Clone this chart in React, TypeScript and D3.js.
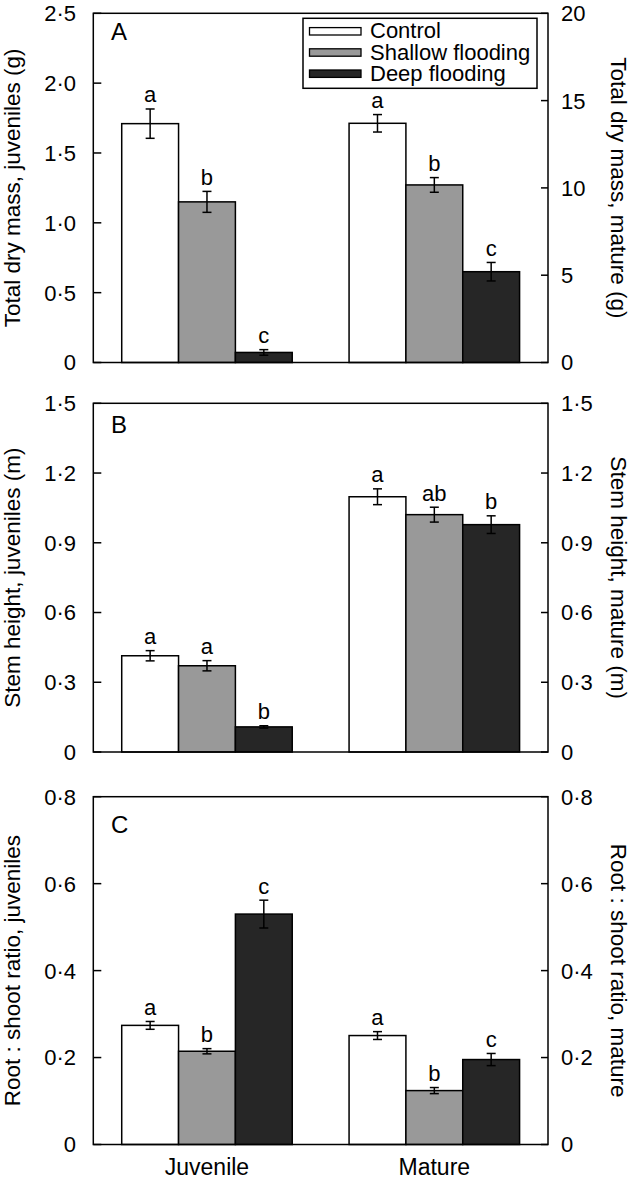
import React from "react";
import * as d3 from "d3";

const groups = ["Juvenile", "Mature"];
const treatments = ["Control", "Shallow flooding", "Deep flooding"];
const fills = ["#ffffff", "#999999", "#262626"];

// Panel A: total dry mass
const massJuvMean = [1.71, 1.15, 0.072];
const massJuvSE = [0.105, 0.075, 0.02];
const massJuvLetters = ["a", "b", "c"];
const massMatMean = [13.7, 10.17, 5.2];
const massMatSE = [0.5, 0.42, 0.53];
const massMatLetters = ["a", "b", "c"];

// Panel B: stem height
const heightJuvMean = [0.414, 0.371, 0.108];
const heightJuvSE = [0.022, 0.022, 0.005];
const heightJuvLetters = ["a", "a", "b"];
const heightMatMean = [1.098, 1.021, 0.978];
const heightMatSE = [0.034, 0.032, 0.038];
const heightMatLetters = ["a", "ab", "b"];

// Panel C: root:shoot ratio
const ratioJuvMean = [0.274, 0.2145, 0.53];
const ratioJuvSE = [0.009, 0.006, 0.032];
const ratioJuvLetters = ["a", "b", "c"];
const ratioMatMean = [0.2506, 0.124, 0.1954];
const ratioMatSE = [0.009, 0.007, 0.014];
const ratioMatLetters = ["a", "b", "c"];

const massLeftTicks = [0, 0.5, 1.0, 1.5, 2.0, 2.5];
const massRightTicks = [0, 5, 10, 15, 20];
const heightTicks = [0, 0.3, 0.6, 0.9, 1.2, 1.5];
const ratioTicks = [0, 0.2, 0.4, 0.6, 0.8];

const panels = [
  {
    label: "A", top: 13.3, bottom: 362.5, labelDy: 27,
    leftMax: 2.5, rightMax: 20, leftTicks: massLeftTicks, rightTicks: massRightTicks,
    leftTitle: "Total dry mass, juveniles (g)", rightTitle: "Total dry mass, mature (g)",
    juv: massJuvMean, juvSE: massJuvSE, juvL: massJuvLetters,
    mat: massMatMean, matSE: massMatSE, matL: massMatLetters, legend: true,
  },
  {
    label: "B", top: 403.3, bottom: 752, labelDy: 30,
    leftMax: 1.5, rightMax: 1.5, leftTicks: heightTicks, rightTicks: heightTicks,
    leftTitle: "Stem height, juveniles (m)", rightTitle: "Stem height, mature (m)",
    juv: heightJuvMean, juvSE: heightJuvSE, juvL: heightJuvLetters,
    mat: heightMatMean, matSE: heightMatSE, matL: heightMatLetters, legend: false,
  },
  {
    label: "C", top: 796.7, bottom: 1144.5, labelDy: 36.5,
    leftMax: 0.8, rightMax: 0.8, leftTicks: ratioTicks, rightTicks: ratioTicks,
    leftTitle: "Root : shoot ratio, juveniles", rightTitle: "Root : shoot ratio, mature",
    juv: ratioJuvMean, juvSE: ratioJuvSE, juvL: ratioJuvLetters,
    mat: ratioMatMean, matSE: ratioMatSE, matL: ratioMatLetters, legend: false,
  },
];

const X0 = 93.3;
const X1 = 548;
const FONT = "'Liberation Sans', Arial, Helvetica, sans-serif";

const fmt = (v: number) => (v === 0 ? "0" : d3.format(".1f")(v).replace(".", "\u00B7"));
const fmtInt = (v: number) => String(v);

export default function App() {
  const xBand = d3.scaleBand<string>().domain(groups).range([X0, X1]).paddingInner(0.25).paddingOuter(0.125);
  const xInner = d3.scaleBand<string>().domain(treatments).range([0, xBand.bandwidth()]);

  return (
    <svg width={633} height={1181} style={{ position: "absolute", left: 0, top: 0, background: "#fff" }} fontFamily={FONT}>
      <rect x={0} y={0} width={633} height={1181} fill="#fff" />
      {panels.map((p) => {
        const yL = d3.scaleLinear().domain([0, p.leftMax]).range([p.bottom, p.top]);
        const yR = d3.scaleLinear().domain([0, p.rightMax]).range([p.bottom, p.top]);
        const mid = (p.top + p.bottom) / 2;
        const rightFmt = p.rightMax >= 10 ? fmtInt : fmt;
        const sets = [
          { g: groups[0], vals: p.juv, se: p.juvSE, L: p.juvL, y: yL },
          { g: groups[1], vals: p.mat, se: p.matSE, L: p.matL, y: yR },
        ];
        return (
          <g key={p.label}>
            {sets.map((s) =>
              s.vals.map((v, i) => {
                const x = (xBand(s.g) as number) + (xInner(treatments[i]) as number);
                const w = xInner.bandwidth();
                const cx = x + w / 2;
                const yTop = s.y(v + s.se[i]);
                const yBot = s.y(v - s.se[i]);
                return (
                  <g key={s.g + i}>
                    <rect x={x} y={s.y(v)} width={w} height={p.bottom - s.y(v)} fill={fills[i]} stroke="#000" strokeWidth={1.5} />
                    <line x1={cx} x2={cx} y1={yTop} y2={yBot} stroke="#000" strokeWidth={1.5} />
                    <line x1={cx - 4.5} x2={cx + 4.5} y1={yTop} y2={yTop} stroke="#000" strokeWidth={1.5} />
                    <line x1={cx - 4.5} x2={cx + 4.5} y1={yBot} y2={yBot} stroke="#000" strokeWidth={1.5} />
                    <text x={cx} y={yTop - 6.5} textAnchor="middle" fontSize={22}>{s.L[i]}</text>
                  </g>
                );
              })
            )}
            <rect x={X0} y={p.top} width={X1 - X0} height={p.bottom - p.top} fill="none" stroke="#000" strokeWidth={1.5} />
            {p.leftTicks.map((t) => (
              <g key={"l" + t}>
                <line x1={X0} x2={X0 + 8} y1={yL(t)} y2={yL(t)} stroke="#000" strokeWidth={1.5} />
                <text x={76} y={yL(t)} dy="0.36em" textAnchor="end" fontSize={22}>{fmt(t)}</text>
              </g>
            ))}
            {p.rightTicks.map((t) => (
              <g key={"r" + t}>
                <line x1={X1 - 7} x2={X1} y1={yR(t)} y2={yR(t)} stroke="#000" strokeWidth={1.5} />
                <text x={561} y={yR(t)} dy="0.36em" textAnchor="start" fontSize={22}>{rightFmt(t)}</text>
              </g>
            ))}
            <text x={111} y={p.top + p.labelDy} fontSize={24}>{p.label}</text>
            <text transform={`translate(20,${mid}) rotate(-90)`} textAnchor="middle" fontSize={22.5}>{p.leftTitle}</text>
            <text transform={`translate(611,${mid}) rotate(90)`} textAnchor="middle" fontSize={22.5}>{p.rightTitle}</text>
            {p.legend && (
              <g>
                <rect x={303} y={18.3} width={234} height={70} fill="#fff" stroke="#000" strokeWidth={1.5} />
                {treatments.map((t, i) => {
                  const cy = 31.3 + i * 21.2;
                  return (
                    <g key={t}>
                      <rect x={309.5} y={cy - 3.7} width={51.5} height={7.4} fill={fills[i]} stroke="#000" strokeWidth={1.3} />
                      <text x={370} y={cy + 7} fontSize={22}>{t}</text>
                    </g>
                  );
                })}
              </g>
            )}
          </g>
        );
      })}
      {groups.map((g) => (
        <text key={g} x={(xBand(g) as number) + xBand.bandwidth() / 2} y={1175} textAnchor="middle" fontSize={23}>{g}</text>
      ))}
    </svg>
  );
}
